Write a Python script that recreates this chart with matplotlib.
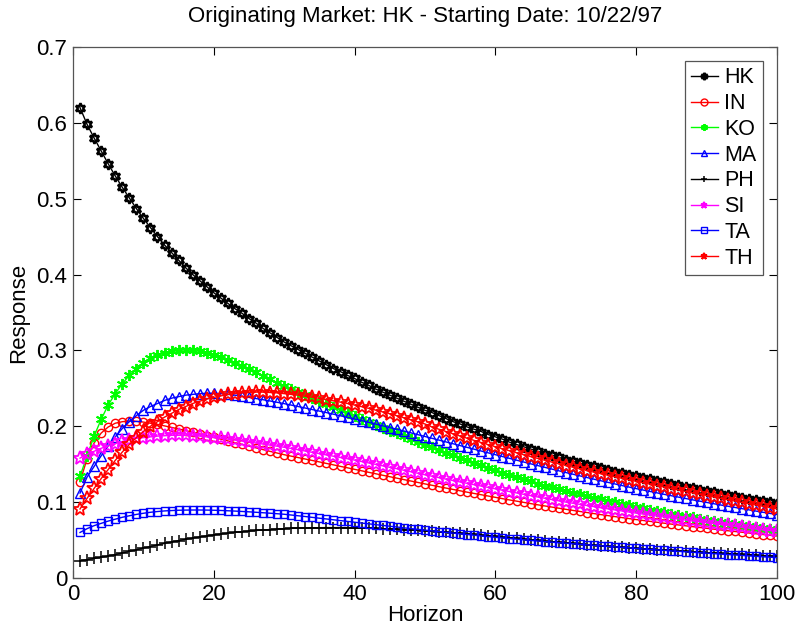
import numpy as np
import matplotlib
matplotlib.use("Agg")
import matplotlib.pyplot as plt

plt.rcParams['font.family'] = ['Liberation Sans', 'DejaVu Sans']

horizon = np.arange(1, 101)

hk = [0.620, 0.598, 0.580, 0.563, 0.546, 0.530, 0.515, 0.501, 0.487, 0.474,
      0.462, 0.450, 0.439, 0.429, 0.419, 0.409, 0.400, 0.392, 0.384, 0.376,
      0.369, 0.362, 0.355, 0.349, 0.342, 0.336, 0.329, 0.323, 0.317, 0.311,
      0.306, 0.301, 0.296, 0.291, 0.286, 0.281, 0.276, 0.272, 0.267, 0.263,
      0.258, 0.254, 0.249, 0.245, 0.241, 0.237, 0.233, 0.229, 0.225, 0.221,
      0.218, 0.214, 0.210, 0.206, 0.203, 0.199, 0.196, 0.193, 0.189, 0.186,
      0.183, 0.179, 0.176, 0.173, 0.170, 0.167, 0.164, 0.162, 0.159, 0.156,
      0.154, 0.151, 0.149, 0.147, 0.145, 0.142, 0.140, 0.138, 0.136, 0.134,
      0.132, 0.130, 0.128, 0.126, 0.124, 0.122, 0.120, 0.118, 0.116, 0.115,
      0.113, 0.111, 0.109, 0.108, 0.106, 0.104, 0.103, 0.101, 0.100, 0.098]

in_ = [0.127, 0.157, 0.178, 0.191, 0.199, 0.204, 0.206, 0.207, 0.2065, 0.2055,
       0.2040, 0.2025, 0.2005, 0.1985, 0.1965, 0.1943, 0.1921, 0.1899, 0.1876, 0.1853,
       0.1830, 0.1807, 0.1784, 0.1761, 0.1738, 0.1715, 0.1692, 0.1669, 0.1647, 0.1625,
       0.1606, 0.1587, 0.1568, 0.1549, 0.1530, 0.1510, 0.1491, 0.1471, 0.1452, 0.1432,
       0.1413, 0.1393, 0.1374, 0.1354, 0.1335, 0.1316, 0.1297, 0.1278, 0.1259, 0.1240,
       0.1222, 0.1203, 0.1185, 0.1167, 0.1149, 0.1131, 0.1114, 0.1097, 0.1080, 0.1063,
       0.1046, 0.1029, 0.1013, 0.0997, 0.0981, 0.0965, 0.0950, 0.0935, 0.0920, 0.0905,
       0.0891, 0.0877, 0.0863, 0.0849, 0.0835, 0.0822, 0.0809, 0.0796, 0.0783, 0.0770,
       0.0758, 0.0746, 0.0734, 0.0722, 0.0710, 0.0699, 0.0688, 0.0677, 0.0666, 0.0655,
       0.0644, 0.0633, 0.0623, 0.0613, 0.0603, 0.0593, 0.0583, 0.0573, 0.0563, 0.0553]

ko = [0.134, 0.161, 0.187, 0.209, 0.228, 0.243, 0.256, 0.267, 0.276, 0.284,
      0.290, 0.294, 0.297, 0.299, 0.300, 0.3005, 0.300, 0.299, 0.297, 0.294,
      0.291, 0.287, 0.283, 0.2795, 0.2755, 0.2712, 0.2668, 0.2622, 0.2576, 0.2531,
      0.2490, 0.2450, 0.2410, 0.2370, 0.2330, 0.2290, 0.2250, 0.2211, 0.2172, 0.2133,
      0.2094, 0.2056, 0.2018, 0.1980, 0.1942, 0.1905, 0.1868, 0.1831, 0.1795, 0.1759,
      0.1723, 0.1688, 0.1653, 0.1618, 0.1584, 0.1550, 0.1517, 0.1484, 0.1452, 0.1420,
      0.1389, 0.1359, 0.1329, 0.1300, 0.1272, 0.1245, 0.1219, 0.1194, 0.1170, 0.1147,
      0.1125, 0.1103, 0.1081, 0.1060, 0.1039, 0.1018, 0.0998, 0.0978, 0.0958, 0.0939,
      0.0920, 0.0902, 0.0884, 0.0866, 0.0849, 0.0832, 0.0815, 0.0799, 0.0783, 0.0767,
      0.0753, 0.0739, 0.0725, 0.0711, 0.0698, 0.0685, 0.0672, 0.0659, 0.0647, 0.0635]

ma = [0.112, 0.133, 0.147, 0.161, 0.174, 0.186, 0.197, 0.206, 0.214, 0.221,
      0.226, 0.230, 0.234, 0.237, 0.239, 0.241, 0.242, 0.243, 0.2435, 0.2435,
      0.243, 0.242, 0.241, 0.2395, 0.238, 0.2365, 0.235, 0.2333, 0.2316, 0.2298,
      0.2279, 0.2260, 0.2240, 0.2220, 0.2200, 0.2180, 0.2159, 0.2138, 0.2117, 0.2096,
      0.2074, 0.2052, 0.2029, 0.2006, 0.1983, 0.1960, 0.1937, 0.1913, 0.1889, 0.1865,
      0.1841, 0.1817, 0.1793, 0.1769, 0.1745, 0.1721, 0.1697, 0.1673, 0.1649, 0.1625,
      0.1601, 0.1577, 0.1553, 0.1529, 0.1505, 0.1482, 0.1459, 0.1436, 0.1413, 0.1390,
      0.1368, 0.1346, 0.1324, 0.1302, 0.1281, 0.1260, 0.1239, 0.1218, 0.1198, 0.1178,
      0.1159, 0.1140, 0.1121, 0.1102, 0.1084, 0.1066, 0.1048, 0.1030, 0.1013, 0.0996,
      0.0979, 0.0962, 0.0946, 0.0930, 0.0914, 0.0898, 0.0882, 0.0866, 0.0851, 0.0836]

ph = [0.0228, 0.0242, 0.0257, 0.0273, 0.0290, 0.0309, 0.0329, 0.0350, 0.0372, 0.0394,
      0.0415, 0.0436, 0.0456, 0.0475, 0.0493, 0.0510, 0.0526, 0.0541, 0.0555, 0.0568,
      0.0580, 0.0591, 0.0601, 0.0610, 0.0618, 0.0626, 0.0633, 0.0639, 0.0645, 0.0650,
      0.0654, 0.0657, 0.0660, 0.0662, 0.0663, 0.0664, 0.0664, 0.0664, 0.0663, 0.0660,
      0.0658, 0.0656, 0.0653, 0.0650, 0.0647, 0.0643, 0.0639, 0.0634, 0.0629, 0.0624,
      0.0618, 0.0612, 0.0605, 0.0598, 0.0591, 0.0583, 0.0575, 0.0567, 0.0558, 0.0549,
      0.0540, 0.0531, 0.0522, 0.0513, 0.0504, 0.0495, 0.0487, 0.0479, 0.0471, 0.0463,
      0.0455, 0.0448, 0.0441, 0.0434, 0.0427, 0.0420, 0.0413, 0.0406, 0.0399, 0.0393,
      0.0387, 0.0381, 0.0375, 0.0369, 0.0363, 0.0357, 0.0351, 0.0345, 0.0340, 0.0335,
      0.0330, 0.0325, 0.0320, 0.0315, 0.0310, 0.0305, 0.0300, 0.0295, 0.0290, 0.0285]

si = [0.158, 0.163, 0.167, 0.171, 0.174, 0.177, 0.180, 0.182, 0.184, 0.185,
      0.186, 0.187, 0.1875, 0.188, 0.188, 0.188, 0.1875, 0.187, 0.186, 0.185,
      0.184, 0.183, 0.1818, 0.1805, 0.1792, 0.1779, 0.1765, 0.1751, 0.1737, 0.1723,
      0.1707, 0.1690, 0.1673, 0.1656, 0.1639, 0.1622, 0.1605, 0.1588, 0.1571, 0.1554,
      0.1535, 0.1516, 0.1497, 0.1478, 0.1459, 0.1440, 0.1420, 0.1400, 0.1380, 0.1360,
      0.1341, 0.1322, 0.1303, 0.1284, 0.1265, 0.1247, 0.1229, 0.1211, 0.1193, 0.1175,
      0.1157, 0.1139, 0.1121, 0.1103, 0.1085, 0.1068, 0.1051, 0.1034, 0.1017, 0.1000,
      0.0985, 0.0970, 0.0955, 0.0940, 0.0925, 0.0911, 0.0897, 0.0883, 0.0869, 0.0855,
      0.0842, 0.0829, 0.0816, 0.0803, 0.0790, 0.0777, 0.0764, 0.0752, 0.0740, 0.0728,
      0.0716, 0.0704, 0.0692, 0.0680, 0.0668, 0.0657, 0.0646, 0.0635, 0.0624, 0.0613]

ta = [0.0600, 0.0650, 0.0690, 0.0720, 0.0750, 0.0775, 0.0800, 0.0820, 0.0838, 0.0853,
      0.0866, 0.0876, 0.0884, 0.0889, 0.0893, 0.0895, 0.0896, 0.0896, 0.0895, 0.0893,
      0.0890, 0.0886, 0.0882, 0.0877, 0.0872, 0.0866, 0.0860, 0.0854, 0.0847, 0.0840,
      0.0830, 0.0820, 0.0810, 0.0799, 0.0788, 0.0778, 0.0767, 0.0756, 0.0746, 0.0735,
      0.0724, 0.0714, 0.0703, 0.0693, 0.0682, 0.0672, 0.0661, 0.0651, 0.0641, 0.0631,
      0.0621, 0.0611, 0.0601, 0.0592, 0.0582, 0.0573, 0.0563, 0.0554, 0.0545, 0.0536,
      0.0528, 0.0519, 0.0511, 0.0503, 0.0495, 0.0487, 0.0480, 0.0472, 0.0465, 0.0458,
      0.0451, 0.0444, 0.0437, 0.0430, 0.0424, 0.0417, 0.0410, 0.0403, 0.0397, 0.0390,
      0.0383, 0.0377, 0.0370, 0.0364, 0.0357, 0.0351, 0.0345, 0.0339, 0.0333, 0.0327,
      0.0321, 0.0315, 0.0309, 0.0303, 0.0297, 0.0291, 0.0285, 0.0279, 0.0274, 0.0268]

th = [0.091, 0.105, 0.118, 0.131, 0.143, 0.155, 0.166, 0.176, 0.185, 0.193,
      0.200, 0.206, 0.212, 0.217, 0.222, 0.226, 0.230, 0.233, 0.236, 0.238,
      0.240, 0.242, 0.243, 0.244, 0.2445, 0.245, 0.245, 0.2445, 0.244, 0.243,
      0.2420, 0.2408, 0.2395, 0.2382, 0.2368, 0.2352, 0.2335, 0.2318, 0.2300, 0.2280,
      0.2258, 0.2236, 0.2213, 0.2189, 0.2165, 0.2139, 0.2112, 0.2085, 0.2058, 0.2030,
      0.1990, 0.1960, 0.1930, 0.1900, 0.1871, 0.1842, 0.1813, 0.1785, 0.1757, 0.1730,
      0.1703, 0.1677, 0.1651, 0.1625, 0.1600, 0.1576, 0.1552, 0.1528, 0.1505, 0.1482,
      0.1460, 0.1438, 0.1416, 0.1395, 0.1374, 0.1353, 0.1333, 0.1313, 0.1293, 0.1274,
      0.1255, 0.1236, 0.1217, 0.1198, 0.1179, 0.1160, 0.1141, 0.1122, 0.1104, 0.1086,
      0.1068, 0.1050, 0.1032, 0.1014, 0.0996, 0.0979, 0.0962, 0.0945, 0.0928, 0.0911]

markets = ['HK', 'IN', 'KO', 'MA', 'PH', 'SI', 'TA', 'TH']
responses = [hk, in_, ko, ma, ph, si, ta, th]

# line style per market: colour, marker, marker size, marker edge width
styles = {
    'HK': ('#000000', (6, 1, 0), 7.5, 1.8),
    'IN': ('#ff0000', 'o', 6, 1.0),
    'KO': ('#00ff00', (6, 2, 0), 8, 1.4),
    'MA': ('#0000ff', '^', 6.5, 1.0),
    'PH': ('#000000', '+', 8, 1.1),
    'SI': ('#ff00ff', '*', 10, 1.3),
    'TA': ('#0000ff', 's', 5.5, 1.0),
    'TH': ('#ff0000', '*', 10, 1.3),
}

fig = plt.figure(figsize=(7.95, 6.26), dpi=100)
ax = fig.add_axes([0.0918, 0.0767, 0.8856, 0.8483])

for name, vals in zip(markets, responses):
    col, mk, ms, mew = styles[name]
    ax.plot(horizon, vals, color=col, marker=mk, markersize=ms,
            markerfacecolor='none', markeredgecolor=col, markeredgewidth=mew,
            linewidth=1.0, label=name)

ax.set_xlim(0, 100)
ax.set_ylim(0, 0.7)
ax.set_xticks([0, 20, 40, 60, 80, 100])
ax.set_yticks([0, 0.1, 0.2, 0.3, 0.4, 0.5, 0.6, 0.7])
ax.set_yticklabels(['0', '0.1', '0.2', '0.3', '0.4', '0.5', '0.6', '0.7'])
ax.tick_params(direction='in', top=True, right=True, length=6, width=0.8,
               labelsize=16, pad=4)
for sp in ax.spines.values():
    sp.set_color('#555555')
    sp.set_linewidth(0.9)

ax.set_xlabel('Horizon', fontsize=16, labelpad=0)
ax.set_ylabel('Response', fontsize=16, labelpad=5)
ax.set_title('Originating Market: HK - Starting Date: 10/22/97', fontsize=16, pad=18)

leg = ax.legend(loc='upper right', fontsize=15.5, handlelength=1.25,
                handletextpad=0.3, labelspacing=0.22, borderpad=0.3,
                borderaxespad=0.65, fancybox=False, framealpha=1)
leg.get_frame().set_edgecolor('#555555')
leg.get_frame().set_linewidth(0.9)
for h in leg.legend_handles:
    h.set_markersize(5)

fig.savefig('out.png', dpi=100)
